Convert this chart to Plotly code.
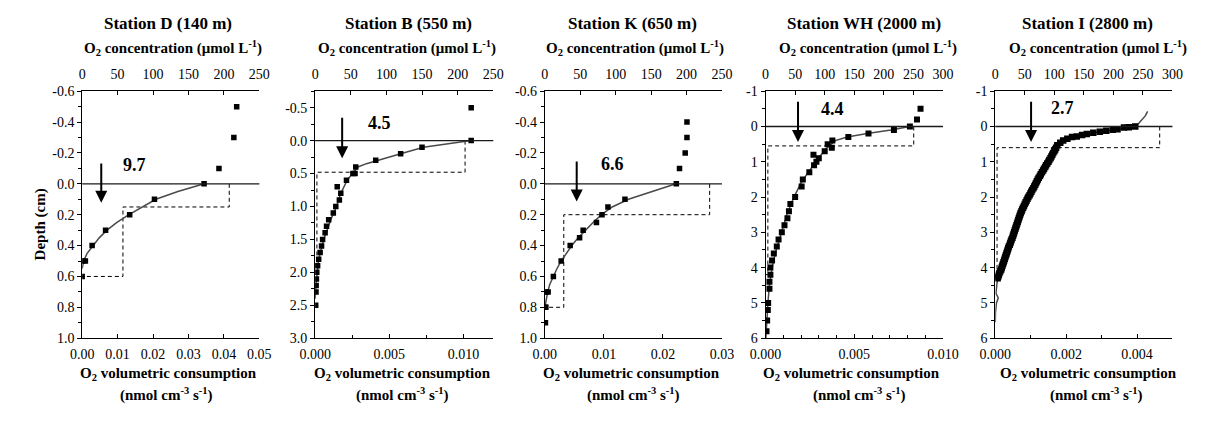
import plotly.graph_objects as go

W, H = 1205, 425
FONT = "Times New Roman, Liberation Serif, serif"

# ---------------- data ----------------
# Station D (140 m)
D_pt_depth = [-0.5, -0.3, -0.1, 0.0, 0.1, 0.2, 0.3, 0.4, 0.5, 0.5, 0.6]
D_pt_conc = [218, 214, 193, 172, 102, 67, 33, 14, 4.5, 1, 0]
D_fit_depth = [0.0, 0.05, 0.1, 0.15, 0.2, 0.25, 0.3, 0.35, 0.4, 0.45, 0.5, 0.55]
D_fit_conc = [172, 135, 104, 84, 66, 49, 35, 24, 15, 7, 2, 0]
D_rate = [0.0415, 0.0415, 0.0115, 0.0115, 0.0]
D_rate_depth = [0.0, 0.15, 0.15, 0.6, 0.6]

# Station B (550 m)
B_pt_depth = [-0.5, 0.0, 0.1, 0.2, 0.3, 0.4, 0.5, 0.5, 0.6, 0.7, 0.8, 0.9, 1.0, 1.1, 1.2,
              1.3, 1.4, 1.5, 1.6, 1.7, 1.8, 1.9, 2.0, 2.1, 2.2, 2.3, 2.5]
B_pt_conc = [219, 219, 150, 120, 85, 57, 53, 56, 44, 31, 36, 34, 29, 25.5, 19,
             16, 14, 10.5, 9, 7, 5, 3.5, 2.3, 1.8, 1.4, 1.2, 0.8]
B_fit_depth = [0.0, 0.1, 0.2, 0.3, 0.35, 0.4, 0.5, 0.6, 0.8, 1.0, 1.2, 1.5, 1.8, 2.0, 2.2, 2.4]
B_fit_conc = [219, 152, 120, 88, 72, 60, 53, 45, 36, 30, 22, 12, 5, 2.5, 1, 0]
B_rate = [0.0101, 0.0101, 0.00012, 0.00012, 0.0]
B_rate_depth = [0.0, 0.48, 0.48, 1.9, 1.9]

# Station K (650 m)
K_pt_depth = [-0.4, -0.3, -0.2, -0.1, 0.0, 0.1, 0.15, 0.2, 0.25, 0.3, 0.35, 0.4, 0.5, 0.6,
              0.7, 0.7, 0.8, 0.8, 0.9]
K_pt_conc = [200.5, 200.5, 198, 190, 185.5, 113, 89, 80.6, 72.8, 54, 49, 35.7, 23, 12,
             4.6, 2, 1.4, 0.5, 0.8]
K_fit_depth = [0.0, 0.05, 0.1, 0.15, 0.2, 0.25, 0.3, 0.35, 0.4, 0.45, 0.5, 0.55, 0.6, 0.65, 0.7,
               0.75, 0.8]
K_fit_conc = [185, 150, 118, 95, 80, 68, 57, 47, 38, 30, 23, 17, 12, 7, 4, 1.5, 0]
K_rate = [0.0279, 0.0279, 0.0032, 0.0032, 0.0]
K_rate_depth = [0.0, 0.2, 0.2, 0.8, 0.8]

# Station WH (2000 m)
WH_pt_depth = [-0.5, -0.2, 0.0, 0.1, 0.2, 0.3, 0.4, 0.5, 0.6, 0.7, 0.8, 0.9, 1.0, 1.1, 1.3,
               1.5, 1.7, 2.0, 2.2, 2.4, 2.6, 2.8, 3.0, 3.2, 3.4, 3.6, 3.8, 4.0, 4.2, 4.4,
               4.6, 5.0, 5.2, 5.5, 5.8]
WH_pt_conc = [262, 256, 244, 217, 174, 140, 113, 105, 112, 100, 81, 90, 86, 82, 74,
              63, 61, 50, 42, 39.5, 37, 32, 27.5, 22, 19, 14, 11, 8.2, 8.2, 6.6,
              6.6, 4.4, 3.8, 2.7, 1.6]
WH_fit_depth = [0.0, 0.1, 0.2, 0.3, 0.4, 0.5, 0.6, 0.8, 1.0, 1.3, 1.6, 2.0, 2.5, 3.0, 3.5,
                4.0, 4.5, 5.0, 5.5, 6.0]
WH_fit_conc = [244, 212, 172, 138, 118, 110, 104, 94, 85, 72, 60, 48, 36, 27, 18,
               11, 6.5, 4, 2, 0.5]
WH_rate = [0.00835, 0.00835, 0.00013, 0.00013, 0.0]
WH_rate_depth = [0.0, 0.55, 0.55, 4.2, 4.2]

# Station I (2800 m)
I_pt_depth = [0.0, 0.02, 0.03, 0.08, 0.09, 0.12, 0.15, 0.18, 0.21, 0.24, 0.28, 0.3, 0.35,
              0.4, 0.46, 0.53, 0.6,
              0.65, 0.7, 0.75, 0.8, 0.85, 0.9, 0.95, 1.0, 1.05, 1.1, 1.15, 1.2, 1.25, 1.3,
              1.35, 1.4, 1.45, 1.5, 1.55, 1.6, 1.65, 1.7, 1.75, 1.8, 1.85, 1.9, 1.95, 2.0,
              2.05, 2.1, 2.15, 2.2, 2.25, 2.3, 2.35, 2.4, 2.45, 2.5, 2.55, 2.6, 2.65, 2.7,
              2.75, 2.8, 2.85, 2.9, 2.95, 3.0, 3.05, 3.1, 3.15, 3.2, 3.25, 3.3, 3.35, 3.4,
              3.45, 3.5, 3.55, 3.6, 3.65, 3.7, 3.75, 3.8, 3.85, 3.9, 3.95, 4.0, 4.05, 4.1,
              4.15, 4.2, 4.25, 4.3]
I_pt_conc = [237, 226, 218, 207, 199, 188, 177, 166, 155, 147, 138, 130, 122,
             115, 110, 105, 103,
             101.5, 100, 98, 96.5, 95, 93.5, 91.5, 90, 88, 86, 84.5, 82.5, 81, 79,
             77, 75.5, 73.5, 72, 70.5, 69, 67.5, 66, 64.5, 62.5, 61, 59.5, 58, 56,
             54.5, 53, 51.5, 50, 48.5, 47, 45.5, 44.5, 43, 42, 41, 40, 39, 38,
             37, 36, 35, 34, 33, 32, 31, 30, 29, 27.5, 26.5, 25.5, 24.5, 23,
             22, 21, 20, 19, 18, 17, 16, 15, 14, 13, 12, 11, 10, 8.5,
             7, 6, 5, 4]
I_fit_depth = [-0.43, -0.3, -0.09, 0.0, 0.1, 0.2, 0.3, 0.4, 0.5, 0.62, 1.0, 2.0, 3.0, 4.0,
               4.3, 4.5, 4.73, 4.86, 5.0, 5.27, 5.55]
I_fit_conc = [258, 254, 243, 237, 200, 158, 128, 114, 106, 102, 90, 56, 32, 11,
              4, 2.5, 1.2, 5, 2, 0.3, 0]
I_rate = [0.00464, 0.00464, 0.00005, 0.00005, 0.0]
I_rate_depth = [0.0, 0.6, 0.6, 4.3, 4.3]

titles = ["Station D (140 m)", "Station B (550 m)", "Station K (650 m)",
          "Station WH (2000 m)", "Station I (2800 m)"]
flux_labels = ["9.7", "4.5", "6.6", "4.4", "2.7"]

# y tick labels (depth)
ytv_small = [-0.6, -0.4, -0.2, 0.0, 0.2, 0.4, 0.6, 0.8, 1.0]
ytt_small = ["-0.6", "-0.4", "-0.2", "0.0", "0.2", "0.4", "0.6", "0.8", "1.0"]
ytv_B = [-0.5, 0.0, 0.5, 1.0, 1.5, 2.0, 2.5, 3.0]
ytt_B = ["-0.5", "0.0", "0.5", "1.0", "1.5", "2.0", "2.5", "3.0"]
ytv_big = [-1, 0, 1, 2, 3, 4, 5, 6]
ytt_big = ["-1", "0", "1", "2", "3", "4", "5", "6"]

# bottom tick labels (volumetric consumption)
xtv_D = [0, 0.01, 0.02, 0.03, 0.04, 0.05]
xtt_D = ["0.00", "0.01", "0.02", "0.03", "0.04", "0.05"]
xtv_B = [0, 0.005, 0.010]
xtt_B = ["0.000", "0.005", "0.010"]
xtv_K = [0, 0.01, 0.02, 0.03]
xtt_K = ["0.00", "0.01", "0.02", "0.03"]
xtv_WH = [0, 0.005, 0.010]
xtt_WH = ["0.000", "0.005", "0.010"]
xtv_I = [0, 0.002, 0.004]
xtt_I = ["0.000", "0.002", "0.004"]

# ---------------- layout geometry ----------------
TOP_PX, BOT_PX = 87.3, 343.3
panels = [
    dict(l=68, r=250, pd=D_pt_depth, pc=D_pt_conc, fd=D_fit_depth, fc=D_fit_conc,
         rx=D_rate, ry=D_rate_depth, yr=[1.0, -0.6], ytv=ytv_small, ytt=ytt_small, ymin=0.1,
         xr=[0, 0.05], xtv=xtv_D, xtt=xtt_D, xmin=None, tr=[0, 250],
         arrow_x=0.00538, arrow_t=-0.141, arrow_h=0.123, lab=(0.0149, -0.125),
         tc=156, atc=161, btc=157, utc=155, ms=5.5),
    dict(l=307.3, r=490.3, pd=B_pt_depth, pc=B_pt_conc, fd=B_fit_depth, fc=B_fit_conc,
         rx=B_rate, ry=B_rate_depth, yr=[3.0, -0.75], ytv=ytv_B, ytt=ytt_B, ymin=0.25,
         xr=[0, 0.012], xtv=xtv_B, xtt=xtt_B, xmin=0.0025, tr=[0, 250],
         arrow_x=0.00182, arrow_t=-0.37, arrow_h=0.267, lab=(0.00433, -0.27),
         tc=403, atc=402, btc=397.5, utc=397, ms=5.5),
    dict(l=543.3, r=725.3, pd=K_pt_depth, pc=K_pt_conc, fd=K_fit_depth, fc=K_fit_conc,
         rx=K_rate, ry=K_rate_depth, yr=[1.0, -0.6], ytv=ytv_small, ytt=ytt_small, ymin=0.1,
         xr=[0, 0.03], xtv=xtv_K, xtt=xtt_K, xmin=None, tr=[0, 250],
         arrow_x=0.00539, arrow_t=-0.154, arrow_h=0.115, lab=(0.01137, -0.131),
         tc=633, atc=636, btc=632, utc=634, ms=5.5),
    dict(l=770, r=952.3, pd=WH_pt_depth, pc=WH_pt_conc, fd=WH_fit_depth, fc=WH_fit_conc,
         rx=WH_rate, ry=WH_rate_depth, yr=[6, -1], ytv=ytv_big, ytt=ytt_big, ymin=0.5,
         xr=[0, 0.010], xtv=xtv_WH, xtt=xtt_WH, xmin=0.001, tr=[0, 300],
         arrow_x=0.00183, arrow_t=-0.743, arrow_h=0.441, lab=(0.00375, -0.49),
         tc=871, atc=875, btc=858, utc=866, ms=6),
    dict(l=1006, r=1188, pd=I_pt_depth, pc=I_pt_conc, fd=I_fit_depth, fc=I_fit_conc,
         rx=I_rate, ry=I_rate_depth, yr=[6, -1], ytv=ytv_big, ytt=ytt_big, ymin=0.5,
         xr=[0, 0.005], xtv=xtv_I, xtt=xtt_I, xmin=0.001, tr=[0, 300],
         arrow_x=0.00101, arrow_t=-0.743, arrow_h=0.441, lab=(0.0019, -0.516),
         tc=1101, atc=1112, btc=1102, utc=1110, ms=6.5),
]


def key(prefix, k):
    return prefix if k == 1 else f"{prefix}{k}"


def ref(prefix, k):
    return prefix if k == 1 else f"{prefix}{k}"


fig = go.Figure()
lay = {}
annotations = []
shapes = []
tickfont = dict(family=FONT, size=14, color="black")
ydom = [1 - BOT_PX / H, 1 - TOP_PX / H]

for i, p in enumerate(panels):
    n = i + 1
    kb, kt = 2 * n - 1, 2 * n
    xb, xt, yy = ref("x", kb), ref("x", kt), ref("y", n)
    xdom = [p["l"] / W, p["r"] / W]

    minor_b = dict(ticks="inside", ticklen=3, tickcolor="black", tickmode="linear",
                   tick0=0, dtick=p["xmin"]) if p["xmin"] else None
    lay[key("xaxis", kb)] = dict(
        domain=xdom, anchor=yy, side="bottom", range=p["xr"], tickmode="array",
        tickvals=p["xtv"], ticktext=p["xtt"], ticks="inside", ticklen=4,
        tickcolor="black", showline=True, linecolor="black", linewidth=1,
        showgrid=False, zeroline=False, tickfont=tickfont, ticklabelstandoff=3,
        **({"minor": minor_b} if minor_b else {}))
    lay[key("xaxis", kt)] = dict(
        domain=xdom, anchor=yy, side="top", overlaying=xb, range=p["tr"],
        tickmode="linear", tick0=0, dtick=50, ticks="inside", ticklen=4,
        tickcolor="black", showline=True, linecolor="black", linewidth=1,
        showgrid=False, zeroline=False, tickfont=tickfont, ticklabelstandoff=6)
    lay[key("yaxis", n)] = dict(
        domain=ydom, anchor=xb, range=p["yr"], tickmode="array",
        tickvals=p["ytv"], ticktext=p["ytt"], ticks="outside", ticklen=4,
        tickcolor="black", showline=True, linecolor="black", linewidth=1,
        showgrid=False, zeroline=False, tickfont=tickfont,
        minor=dict(ticks="outside", ticklen=3, tickcolor="black", tickmode="linear",
                   tick0=0, dtick=p["ymin"]))

    # dashed volumetric consumption profile (bottom axis)
    fig.add_trace(go.Scatter(x=p["rx"], y=p["ry"], xaxis=xb, yaxis=yy, mode="lines",
                             line=dict(color="black", width=1, dash="4px,3px"),
                             showlegend=False, hoverinfo="skip"))
    # fitted concentration profile (top axis)
    fig.add_trace(go.Scatter(x=p["fc"], y=p["fd"], xaxis=xt, yaxis=yy, mode="lines",
                             line=dict(color="#4a4a4a", width=1.5),
                             showlegend=False, hoverinfo="skip"))
    # measured O2 concentration (top axis)
    fig.add_trace(go.Scatter(x=p["pc"], y=p["pd"], xaxis=xt, yaxis=yy, mode="markers",
                             marker=dict(symbol="square", size=p["ms"], color="black",
                                         line=dict(width=0)),
                             showlegend=False))

    # sediment-water interface
    shapes.append(dict(type="line", xref=f"{xb} domain", yref=yy, x0=0, x1=1, y0=0, y1=0,
                       line=dict(color="#1a1a1a", width=1.3)))

    # arrow + flux label
    annotations.append(dict(xref=xb, yref=yy, axref=xb, ayref=yy, x=p["arrow_x"],
                            y=p["arrow_h"], ax=p["arrow_x"], ay=p["arrow_t"], text="",
                            showarrow=True, arrowhead=2, arrowsize=1.2, arrowwidth=2,
                            arrowcolor="black", standoff=0, startstandoff=0))
    annotations.append(dict(xref=xb, yref=yy, x=p["lab"][0], y=p["lab"][1],
                            text=f"<b>{flux_labels[i]}</b>", showarrow=False,
                            font=dict(family=FONT, size=18, color="black"),
                            xanchor="center", yanchor="middle"))

    # titles
    annotations.append(dict(xref="paper", yref="paper", x=p["tc"] / W, y=1 - 17 / H,
                            text=f"<b>{titles[i]}</b>", showarrow=False,
                            font=dict(family=FONT, size=17, color="black"),
                            xanchor="center", yanchor="middle"))
    annotations.append(dict(xref="paper", yref="paper", x=p["atc"] / W, y=1 - 43 / H,
                            text="<b>O<sub>2</sub> concentration (\u03bcmol L<sup>-1</sup>)</b>",
                            showarrow=False, font=dict(family=FONT, size=15, color="black"),
                            xanchor="center", yanchor="middle"))
    annotations.append(dict(xref="paper", yref="paper", x=p["btc"] / W, y=1 - 380 / H,
                            text="<b>O<sub>2</sub> volumetric consumption</b>",
                            showarrow=False, font=dict(family=FONT, size=15, color="black"),
                            xanchor="center", yanchor="middle"))
    annotations.append(dict(xref="paper", yref="paper", x=p["utc"] / W, y=1 - 402 / H,
                            text="<b>(nmol cm<sup>-3</sup> s<sup>-1</sup>)</b>",
                            showarrow=False, font=dict(family=FONT, size=15, color="black"),
                            xanchor="center", yanchor="middle"))

annotations.append(dict(xref="paper", yref="paper", x=25 / W, y=1 - 225 / H,
                        text="<b>Depth (cm)</b>", showarrow=False, textangle=-90,
                        font=dict(family=FONT, size=15, color="black"),
                        xanchor="center", yanchor="middle"))

fig.update_layout(
    width=W, height=H, margin=dict(l=0, r=0, t=0, b=0),
    paper_bgcolor="white", plot_bgcolor="white",
    font=dict(family=FONT, color="black"),
    annotations=annotations, shapes=shapes, **lay)

fig.write_html("out.html")
